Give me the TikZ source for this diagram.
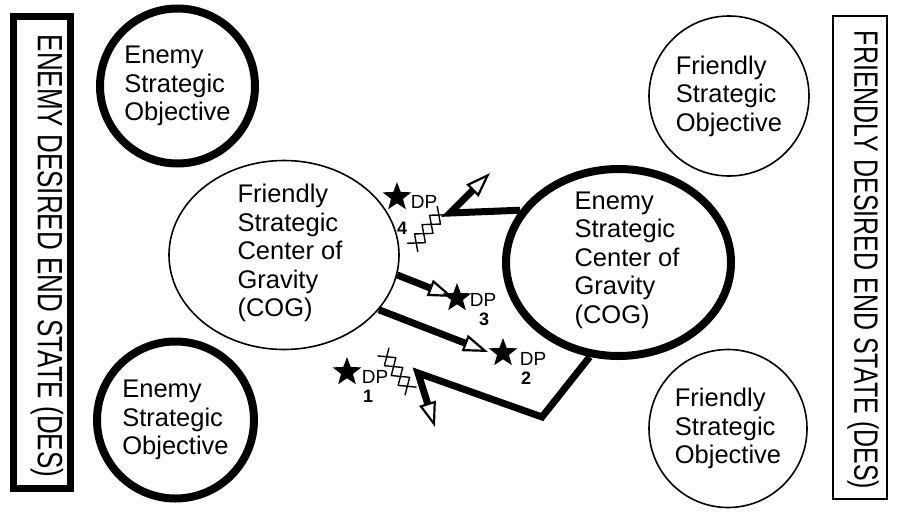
\documentclass[tikz,border=0pt]{standalone}
\usepackage{fontspec}
\setmainfont{Liberation Sans}
\usetikzlibrary{shapes.geometric, arrows.meta}

\begin{document}
\begin{tikzpicture}[x=1pt, y=-1pt]
  \tikzset{
    big_text/.style={font=\fontsize{25.5}{28.5}\selectfont, align=left},
    thick_node/.style={draw, line width=8pt, inner sep=0pt, big_text},
    thin_node/.style={draw, line width=1.6pt, inner sep=0pt, big_text},
    des_text/.style={rotate=-90, yscale=1.35, inner sep=0pt},
    dp_star/.style={star, star points=5, star point ratio=2.4, fill=black, minimum size=30pt, inner sep=0pt},
    dp_text/.style={font=\fontsize{19}{19}\selectfont, inner sep=0pt},
    dp_num/.style={font=\fontsize{18}{18}\selectfont\bfseries, inner sep=0pt},
    dp_arrow/.style={line width=7pt, -{Triangle[open, length=25pt, width=17pt, line width=2.2pt]}},
    cut_wire/.style={line width=1.4pt, line join=round}
  }

  \useasboundingbox (0,0) rectangle (920,522);

  % Desired end state boxes
  \node[draw, line width=7pt, minimum width=57pt, minimum height=472pt] (enemy_des) at (42,252.5) {};
  \node[des_text, font=\fontsize{26}{26}\selectfont] (enemy_des_text) at (47,256) {ENEMY DESIRED END STATE (DES)};
  \node[draw, line width=2pt, minimum width=54pt, minimum height=483pt] (friendly_des) at (860,257.5) {};
  \node[des_text, font=\fontsize{25}{25}\selectfont] (friendly_des_text) at (863,260) {FRIENDLY DESIRED END STATE (DES)};

  % Strategic objectives
  \node[thick_node, circle, minimum size=155pt] (enemy_obj_top) at (177.5,86) {Enemy\\Strategic\\Objective};
  \node[thick_node, circle, minimum size=157pt] (enemy_obj_bottom) at (175.5,420) {Enemy\\Strategic\\Objective};
  \node[thin_node, circle, minimum size=160pt] (friendly_obj_top) at (729,96) {Friendly\\Strategic\\Objective};
  \node[thin_node, circle, minimum size=158pt] (friendly_obj_bottom) at (728,428.5) {Friendly\\Strategic\\Objective};

  % Centers of gravity
  \node[thin_node, ellipse, minimum width=230pt, minimum height=189pt] (friendly_cog) at (284,255) {};
  \node[big_text] (friendly_cog_text) at (290,253) {Friendly\\Strategic\\Center of\\Gravity\\(COG)};
  \node[thick_node, ellipse, minimum width=225pt, minimum height=187pt] (enemy_cog) at (618.5,262.5) {};
  \node[big_text] (enemy_cog_text) at (627,260) {Enemy\\Strategic\\Center of\\Gravity\\(COG)};

  % Lines of operation
  \coordinate (bend4) at (450,213);
  \coordinate (tip4) at (490,173);
  \draw[dp_arrow] (enemy_cog.152) -- (bend4) -- (tip4);

  \coordinate (tip3) at (453,297);
  \draw[dp_arrow] (friendly_cog.-10) -- (tip3);

  \coordinate (tip2) at (488,352);
  \draw[dp_arrow] (friendly_cog.-30) -- (tip2);

  \coordinate (bend1a) at (542,417);
  \coordinate (bend1b) at (418,373);
  \coordinate (tip1) at (435,427);
  \draw[dp_arrow] (enemy_cog.-107) -- (bend1a) -- (bend1b) -- (tip1);

  % Cut lines
  \coordinate (cut4) at (427.5,229);
  \coordinate (cut1) at (397,371.5);
  \foreach \cut/\ang in {cut4/51, cut1/-55} {
    \begin{scope}[shift={(\cut)}, rotate=\ang]
      \draw[cut_wire] (-24,-7) -- (-12,7) -- (0,-7) -- (12,7) -- (24,-7);
      \draw[cut_wire] (-24,7) -- (-12,-7) -- (0,7) -- (12,-7) -- (24,7);
    \end{scope}
  }

  % Decisive points
  \node[dp_star] (star1) at (347,372) {};
  \node[dp_text] (dp1) at (375,377) {DP};
  \node[dp_num] (num1) at (368,396) {1};
  \node[dp_star] (star2) at (503,353) {};
  \node[dp_text] (dp2) at (533,359) {DP};
  \node[dp_num] (num2) at (526,378) {2};
  \node[dp_star] (star3) at (457,298) {};
  \node[dp_text] (dp3) at (483,300) {DP};
  \node[dp_num] (num3) at (484,319) {3};
  \node[dp_star] (star4) at (397,197) {};
  \node[dp_text] (dp4) at (424,202) {DP};
  \node[dp_num] (num4) at (402,228) {4};
\end{tikzpicture}
\end{document}
